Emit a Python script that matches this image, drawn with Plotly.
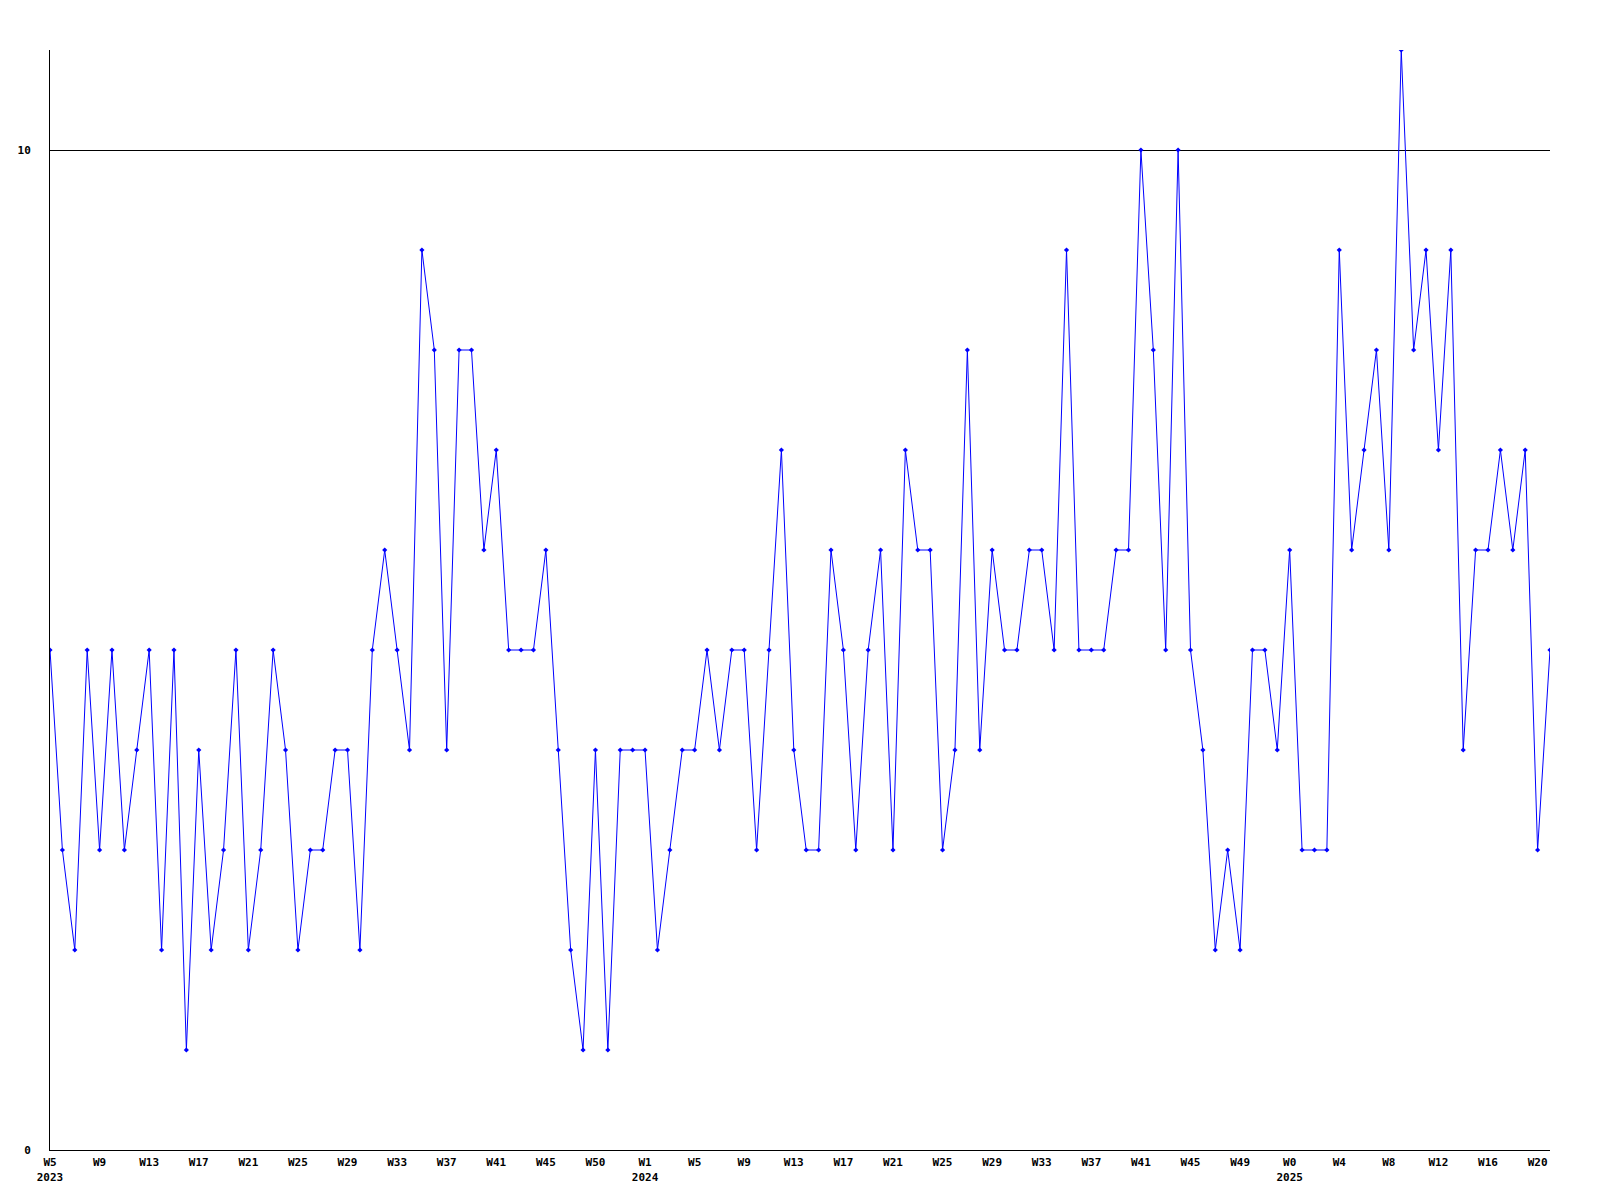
import plotly.graph_objects as go

# Weekly values, 2023-W5 .. 2025-W21 (one point per week)
values = [5, 3, 2, 5, 3, 5, 3, 4, 5, 2,
          5, 1, 4, 2, 3, 5, 2, 3, 5, 4,
          2, 3, 3, 4, 4, 2, 5, 6, 5, 4,
          9, 8, 4, 8, 8, 6, 7, 5, 5, 5,
          6, 4, 2, 1, 4, 1, 4, 4, 4, 2,
          3, 4, 4, 5, 4, 5, 5, 3, 5, 7,
          4, 3, 3, 6, 5, 3, 5, 6, 3, 7,
          6, 6, 3, 4, 8, 4, 6, 5, 5, 6,
          6, 5, 9, 5, 5, 5, 6, 6, 10, 8,
          5, 10, 5, 4, 2, 3, 2, 5, 5, 4,
          6, 3, 3, 3, 9, 6, 7, 8, 6, 11,
          8, 9, 7, 9, 4, 6, 6, 7, 6, 7,
          3, 5]

# Tick labels (every 4th week)
week_labels = ["W5", "W9", "W13", "W17", "W21", "W25", "W29", "W33", "W37", "W41", "W45", "W50",
               "W1", "W5", "W9", "W13", "W17", "W21", "W25", "W29", "W33", "W37", "W41", "W45", "W49",
               "W0", "W4", "W8", "W12", "W16", "W20"]
year_labels = {0: "2023", 48: "2024", 100: "2025"}

y_ticks = [0, 10]

x = list(range(len(values)))
tickvals = list(range(0, len(values), 4))
ticktext = []
for tv, lab in zip(tickvals, week_labels):
    if tv in year_labels:
        ticktext.append(lab + "<br>" + year_labels[tv])
    else:
        ticktext.append(lab)

font = dict(family="DejaVu Sans Mono", size=11, color="black", weight="bold")

fig = go.Figure()
fig.add_trace(go.Scatter(
    x=x, y=values, mode="lines+markers",
    line=dict(color="#0000ff", width=1),
    marker=dict(symbol="diamond", size=4, color="#0000ff"),
    showlegend=False,
))

fig.update_layout(
    width=1600, height=1200,
    margin=dict(l=50, r=50, t=50, b=50),
    plot_bgcolor="white", paper_bgcolor="white",
    font=font,
)
fig.update_xaxes(
    range=[0, len(values) - 1],
    tickvals=tickvals, ticktext=ticktext,
    tickfont=font, showgrid=False, zeroline=False,
    showline=True, linecolor="black", linewidth=1,
    ticks="", ticklabelstandoff=2,
)
fig.update_yaxes(
    range=[0, 11],
    tickvals=y_ticks, ticktext=[str(v) for v in y_ticks],
    tickfont=font, showgrid=True, gridcolor="black", gridwidth=1,
    zeroline=False, showline=True, linecolor="black", linewidth=1,
    ticks="", ticklabelstandoff=16,
)

fig.write_html("out.html", config={"displayModeBar": False},
               post_script="document.body.style.margin='0';")
